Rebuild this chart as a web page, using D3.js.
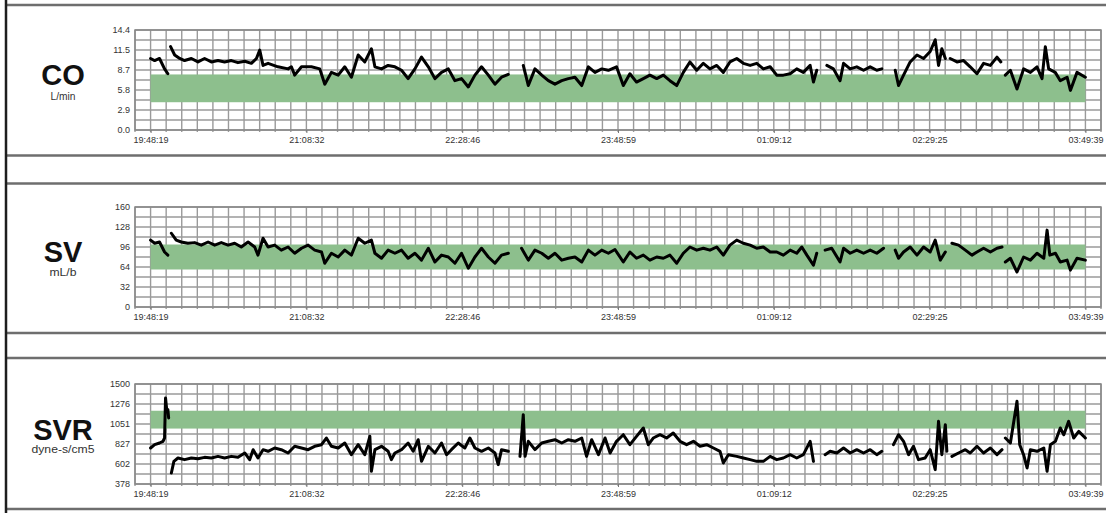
<!DOCTYPE html>
<html><head><meta charset="utf-8">
<script src="https://cdn.jsdelivr.net/npm/d3@7"></script>
<style>body{margin:0;background:#fff}svg{display:block;font-family:"Liberation Sans",Arial,sans-serif}</style>
</head><body><svg id="c" width="1108" height="513"></svg>
<script>
// ---------- data ----------
const timeLabels = ["19:48:19","21:08:32","22:28:46","23:48:59","01:09:12","02:29:25","03:49:39"];

const coTickValues = [0, 2.88, 5.76, 8.64, 11.52, 14.4];
const coTickLabels = ["0.0","2.9","5.8","8.7","11.5","14.4"];
const coRange = [4, 8];
// [minutes since 19:48:19, L/min]; null = no data
const coData = [[0,10.3],[2.1,10.0],[4.6,10.3],[7.2,8.8],[8.9,8.1],[9.6,null],
[10.3,12.0],[12.4,10.8],[15.0,10.3],[17.5,10.0],[21.0,10.3],[24.4,9.8],[27.8,10.3],[31.3,9.8],[34.7,10.0],[38.1,9.8],[41.6,10.0],[45.0,9.7],[48.5,9.9],[51.9,9.6],[54.5,10.3],[56.2,11.5],[57.9,9.3],[60.5,9.6],[65.6,9.1],[70.8,8.8],[72.5,9.1],[74.2,7.9],[77.7,9.1],[82.8,9.1],[87.1,8.8],[89.7,6.6],[93.1,8.3],[96.6,7.9],[100.0,9.1],[103.4,7.6],[106.9,10.8],[110.3,9.8],[113.7,11.7],[115.5,9.1],[118.9,8.8],[122.3,9.3],[125.8,9.1],[129.2,8.6],[132.6,7.4],[136.1,8.8],[139.5,10.5],[143.0,9.1],[146.4,7.4],[149.8,8.3],[153.3,8.8],[156.7,7.1],[160.1,7.4],[163.6,6.2],[167.0,7.9],[170.4,9.1],[173.9,7.9],[177.3,6.6],[180.7,7.6],[184.2,8.0],[188.0,null],
[191.9,9.3],[194.5,6.4],[197.9,8.8],[201.4,7.9],[204.8,7.1],[208.2,6.6],[211.7,7.1],[215.1,7.4],[218.5,7.6],[222.0,6.4],[225.4,9.1],[228.8,8.3],[232.3,8.8],[235.7,8.6],[239.9,9.1],[243.4,6.4],[246.8,8.1],[250.2,6.9],[253.7,7.4],[257.1,7.9],[260.6,7.4],[264.0,7.9],[267.4,7.1],[270.9,6.4],[274.3,8.3],[277.7,9.8],[281.2,8.6],[284.6,9.6],[288.0,8.8],[291.5,9.3],[294.9,8.3],[298.3,9.8],[301.8,10.3],[305.2,9.6],[308.7,9.3],[312.1,9.6],[315.5,8.8],[319.0,9.1],[322.4,7.9],[325.8,7.9],[329.3,8.1],[332.7,8.8],[336.1,8.3],[339.6,9.3],[341.3,6.9],[343.0,8.6],[345.5,null],
[348.2,9.3],[351.6,8.8],[355.0,7.1],[356.8,9.6],[360.2,8.8],[363.6,9.1],[367.1,8.6],[370.5,9.1],[373.9,8.6],[376.5,8.8],[380.0,null],
[383.4,8.6],[385.1,6.4],[387.7,7.9],[391.1,9.8],[394.6,10.8],[398.0,10.3],[401.4,11.3],[404.0,13.0],[405.7,9.3],[407.4,11.7],[409.2,10.3],[410.5,null],
[411.7,10.3],[415.2,9.8],[418.6,10.0],[422.0,9.1],[425.5,8.1],[428.9,9.6],[432.4,9.3],[435.8,10.5],[437.8,9.8],[439.0,null],
[440.1,7.9],[442.7,8.6],[446.1,5.9],[449.5,8.8],[453.0,8.3],[456.4,9.1],[459.0,7.4],[460.7,12.0],[462.4,8.8],[465.8,8.3],[468.4,7.1],[471.9,7.6],[473.6,5.7],[477.0,8.3],[481.3,7.6]];

const svTickValues = [0, 32, 64, 96, 128, 160];
const svTickLabels = ["0","32","64","96","128","160"];
const svRange = [60, 100];
const svData = [[0,107],[2.1,102],[4.6,104],[7.2,88],[8.9,83],[9.8,null],
[10.7,118],[13.2,107],[15.8,104],[19.2,102],[22.7,103],[26.1,99],[29.6,104],[33.0,99],[36.4,103],[39.9,99],[43.3,102],[46.7,96],[50.2,104],[53.6,96],[55.3,83],[57.9,110],[60.5,96],[63.9,99],[67.3,91],[70.8,96],[74.2,86],[77.7,94],[81.1,99],[84.5,91],[88.0,88],[89.7,70],[93.1,86],[96.6,80],[100.0,91],[103.4,83],[106.9,110],[110.3,102],[113.7,107],[115.5,86],[118.9,78],[122.3,91],[125.8,86],[129.2,91],[132.6,78],[136.1,86],[139.5,75],[143.0,94],[146.4,72],[149.8,83],[153.3,80],[156.7,70],[160.1,86],[163.6,62],[167.0,80],[170.4,94],[173.9,80],[177.3,70],[180.7,83],[184.2,86],[187.5,null],
[191.0,94],[194.5,75],[197.9,91],[201.4,86],[204.8,78],[208.2,86],[211.7,75],[215.1,78],[218.5,80],[222.0,72],[225.4,91],[228.8,83],[232.3,91],[235.7,86],[239.1,92],[243.4,72],[246.8,88],[250.2,78],[253.7,83],[257.1,75],[260.6,80],[264.0,78],[267.4,83],[270.9,70],[274.3,86],[277.7,96],[281.2,91],[284.6,94],[288.0,91],[291.5,96],[294.9,83],[298.3,99],[301.8,107],[305.2,102],[308.7,99],[312.1,94],[315.5,96],[319.0,88],[322.4,88],[325.8,83],[329.3,91],[332.7,86],[335.3,96],[337.9,83],[341.3,67],[343.0,86],[345.0,null],
[347.3,91],[350.7,94],[355.0,72],[356.8,94],[360.2,86],[363.6,91],[367.1,86],[370.5,91],[373.9,86],[377.4,94],[380.0,null],
[383.4,91],[385.1,78],[387.7,88],[391.1,96],[394.6,83],[398.0,96],[401.4,88],[404.0,107],[406.6,75],[409.2,88],[411.0,null],
[412.6,102],[416.0,99],[419.5,91],[422.9,83],[425.5,88],[428.9,94],[432.4,88],[435.8,94],[438.4,96],[439.3,null],
[440.1,72],[442.7,78],[446.1,56],[449.5,80],[453.0,75],[456.4,86],[459.9,78],[461.6,123],[463.0,83],[465.9,86],[468.4,72],[471.9,75],[473.6,59],[477.0,78],[481.3,75]];

const svrTickValues = [378, 602.4, 826.8, 1051.2, 1275.6, 1500];
const svrTickLabels = ["378","602","827","1051","1276","1500"];
const svrRange = [1000, 1200];
const svrData = [[0,782],[2.1,819],[4.6,838],[6.4,857],[7.2,894],[7.7,1343],[8.4,1193],[8.9,1212],[9.3,1119],[10.0,null],
[10.7,501],[12.0,632],[14.1,670],[17.5,651],[21.0,670],[24.4,662],[27.8,677],[31.3,670],[34.7,688],[38.1,670],[41.6,688],[45.0,677],[48.5,726],[51.0,651],[52.8,763],[55.3,670],[57.9,763],[60.5,745],[63.9,782],[67.3,763],[70.8,726],[74.2,801],[77.7,782],[81.1,763],[84.5,801],[88.0,819],[90.5,894],[93.1,801],[96.6,782],[100.0,838],[103.4,707],[106.9,819],[110.3,707],[112.9,913],[113.7,520],[115.5,763],[118.9,801],[122.3,745],[124.0,651],[125.8,726],[129.2,763],[132.6,838],[135.2,745],[137.8,875],[139.5,632],[143.0,801],[146.4,726],[149.8,838],[152.4,707],[154.9,763],[158.4,838],[161.8,782],[164.4,894],[167.0,782],[170.4,745],[173.9,782],[177.3,726],[179.0,595],[180.7,763],[184.2,745],[187.0,null],
[190.2,688],[191.9,1156],[192.8,688],[194.5,857],[197.9,763],[201.4,838],[204.8,857],[208.2,875],[211.7,838],[215.1,875],[218.5,857],[222.0,894],[224.5,688],[227.1,875],[230.6,707],[234.0,894],[236.6,726],[239.9,857],[243.4,931],[246.8,819],[250.2,913],[253.7,1006],[256.3,819],[258.8,894],[262.3,931],[265.7,894],[269.1,950],[272.6,857],[276.0,819],[279.5,857],[282.9,801],[286.3,819],[289.8,782],[293.2,745],[294.9,614],[297.5,707],[301.8,688],[305.2,670],[308.7,651],[312.1,632],[315.5,632],[319.0,688],[322.4,651],[325.8,670],[329.3,707],[332.7,670],[336.1,707],[339.6,857],[341.3,632],[344.0,null],
[347.3,707],[349.9,745],[353.3,726],[356.8,782],[360.2,726],[363.6,763],[367.1,726],[370.5,763],[373.9,707],[376.5,745],[379.0,null],
[382.5,819],[385.1,931],[387.7,857],[390.3,707],[392.8,801],[395.4,651],[398.8,670],[401.4,763],[404.0,539],[405.7,1081],[407.4,707],[409.2,1044],[410.0,745],[411.2,null],
[412.6,688],[416.0,726],[419.5,763],[422.0,726],[425.5,801],[428.9,726],[432.4,782],[435.8,707],[438.4,763],[439.2,null],
[440.1,894],[442.7,838],[446.1,1306],[447.5,819],[449.5,707],[451.3,558],[453.0,763],[456.4,745],[459.9,782],[461.6,520],[463.3,819],[465.9,857],[468.4,1006],[470.2,931],[472.7,1081],[475.3,894],[477.9,969],[481.3,894]];

// ---------- layout ----------
const svg = d3.select("#c");
const toMin = s => { const [h, m, sec] = s.split(":").map(Number); return h * 60 + m + sec / 60; };
const t0 = toMin(timeLabels[0]);
const timeTicks = timeLabels.map(s => { let d = toMin(s) - t0; if (d < 0) d += 1440; return d; });
const total = timeTicks[timeTicks.length - 1];
const cell = total / 60;
const x = d3.scaleLinear().domain([-cell, total + cell]).range([135, 1101]);

const panels = [
  {name: "CO", unit: "L/min", unitW: 25, data: coData, tv: coTickValues, tl: coTickLabels, band: coRange,
   top: 30, bottom: 130, fTop: 5, fBot: 155.5, titleY: 85, unitY: 100},
  {name: "SV", unit: "mL/b", unitW: 27, data: svData, tv: svTickValues, tl: svTickLabels, band: svRange,
   top: 207, bottom: 307, fTop: 183.5, fBot: 333, titleY: 262, unitY: 276},
  {name: "SVR", unit: "dyne-s/cm5", unitW: 63, data: svrData, tv: svrTickValues, tl: svrTickLabels, band: svrRange,
   top: 384, bottom: 484, fTop: 358, fBot: 509, titleY: 440, unitY: 453}
];

panels.forEach(p => {
  const lo = p.tv[0], hi = p.tv[p.tv.length - 1];
  const y = d3.scaleLinear().domain([lo, hi]).range([p.bottom, p.top]);
  const g = svg.append("g");

  // frame lines
  [p.fTop, p.fBot].forEach(yy => g.append("line").attr("x1", 6).attr("x2", 1106)
    .attr("y1", yy).attr("y2", yy).attr("stroke", "#6e6e6e").attr("stroke-width", 2.5));

  // grid
  const gridX = d3.range(0, 63).map(k => -cell + k * cell);
  g.selectAll(".gx").data(gridX).join("line")
    .attr("x1", d => x(d)).attr("x2", d => x(d)).attr("y1", p.top).attr("y2", p.bottom + 2)
    .attr("stroke", "#9a9a9a").attr("stroke-width", 1.4);
  const gridY = d3.range(0, 11).map(i => lo + i * (hi - lo) / 10);
  g.selectAll(".gy").data(gridY).join("line")
    .attr("x1", x.range()[0]).attr("x2", x.range()[1]).attr("y1", d => y(d)).attr("y2", d => y(d))
    .attr("stroke", "#9a9a9a").attr("stroke-width", 1.4);
  g.append("rect").attr("x", x.range()[0]).attr("y", p.top)
    .attr("width", x.range()[1] - x.range()[0]).attr("height", p.bottom - p.top)
    .attr("fill", "none").attr("stroke", "#888").attr("stroke-width", 1.5);

  // normal range band
  g.append("rect").attr("x", x(0)).attr("width", x(total) - x(0))
    .attr("y", y(p.band[1])).attr("height", y(p.band[0]) - y(p.band[1]))
    .attr("fill", "#8dbf8d");

  // trace
  const line = d3.line().defined(d => d[1] !== null).x(d => x(d[0])).y(d => y(d[1]));
  g.append("path").datum(p.data).attr("d", line).attr("fill", "none")
    .attr("stroke", "#000").attr("stroke-width", 3).attr("stroke-linejoin", "round").attr("stroke-linecap", "round");

  // axes
  const ya = g.append("g").attr("transform", `translate(${x.range()[0]},0)`)
    .call(d3.axisLeft(y).tickValues(p.tv).tickFormat((d, i) => p.tl[i]).tickSize(0).tickPadding(5));
  ya.select(".domain").remove();
  ya.selectAll("text").attr("font-size", 9).attr("fill", "#333").attr("font-family", "Liberation Sans, Arial, sans-serif");

  const xa = g.append("g").attr("transform", `translate(0,${p.bottom})`)
    .call(d3.axisBottom(x).tickValues(timeTicks).tickFormat((d, i) => timeLabels[i]).tickSize(3).tickPadding(4));
  xa.select(".domain").remove();
  xa.selectAll("line").attr("stroke", "#777");
  xa.selectAll("text").attr("font-size", 9).attr("fill", "#333").attr("font-family", "Liberation Sans, Arial, sans-serif");

  // titles
  g.append("text").attr("x", 63).attr("y", p.titleY).attr("text-anchor", "middle")
    .attr("font-size", 29).attr("font-weight", "bold").attr("fill", "#111").text(p.name);
  g.append("text").attr("x", 63).attr("y", p.unitY).attr("text-anchor", "middle")
    .attr("font-size", 10).attr("fill", "#333")
    .attr("textLength", p.unitW).attr("lengthAdjust", "spacingAndGlyphs").text(p.unit);
});

// left border
svg.append("line").attr("x1", 6).attr("x2", 6).attr("y1", 0).attr("y2", 513)
  .attr("stroke", "#1e1e1e").attr("stroke-width", 2.5);
</script></body></html>
